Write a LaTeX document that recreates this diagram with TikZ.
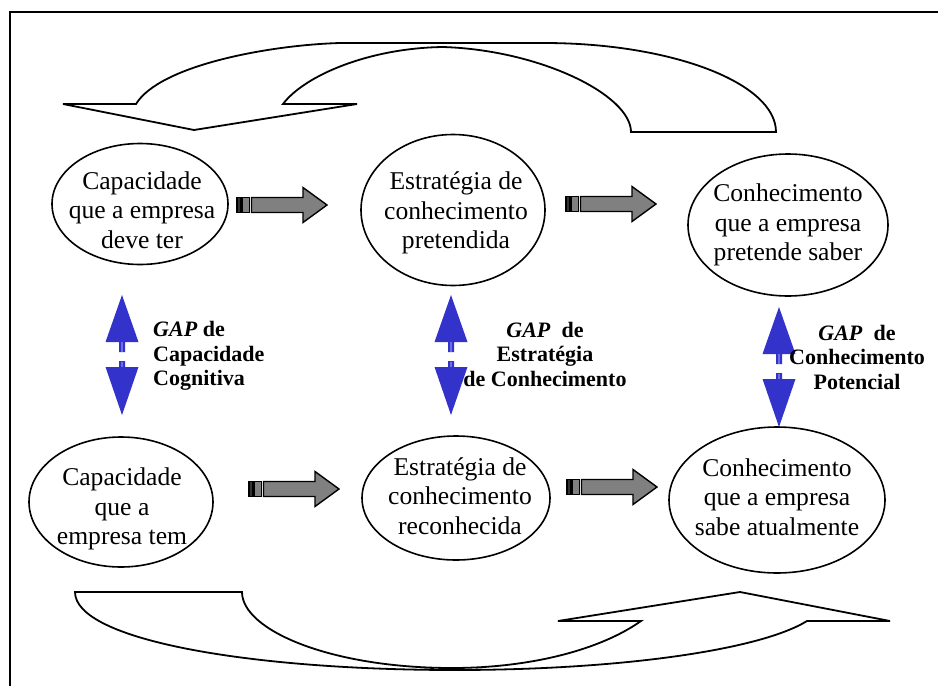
\documentclass[tikz,border=0pt]{standalone}
\usepackage{fontspec}
\setmainfont{Liberation Serif}
\usetikzlibrary{shapes.geometric}
\definecolor{gapblue}{HTML}{3333CC}
\definecolor{gaplight}{HTML}{6F6FDD}
\definecolor{arrowgray}{HTML}{808080}

\begin{document}
\begin{tikzpicture}[x=1pt,y=-1pt,
  oval/.style={draw, ellipse, line width=1.6pt, inner sep=0pt},
  ovaltext/.style={align=center, inner sep=0pt, font=\fontsize{25.6}{29.5}\selectfont},
  gaplabel/.style={inner sep=0pt, font=\fontsize{22}{24.5}\selectfont\bfseries},
  cycleshape/.style={draw, line width=1.8pt, line join=miter},
  stripearrow/.pic={
    \filldraw[fill=arrowgray!40!black, line width=1.1pt] (0,-7.5) rectangle (4,7.5);
    \filldraw[fill=arrowgray, line width=1.1pt] (5.5,-7.5) rectangle (12.5,7.5);
    \filldraw[fill=arrowgray, line width=1.4pt, line join=miter]
      (14.5,-7.5) -- (66,-7.5) -- (66,-17.5) -- (90,0) -- (66,17.5) -- (66,7.5) -- (14.5,7.5) -- cycle;
  },
  gapcue/.pic={
    \fill[gapblue] (0,0) -- (16.5,47) -- (3,47) -- (3,57) -- (-3,57) -- (-3,47) -- (-16.5,47) -- cycle;
    \fill[gapblue] (0,120) -- (16.5,72) -- (3,72) -- (3,66) -- (-3,66) -- (-3,72) -- (-16.5,72) -- cycle;
    \draw[gaplight, line width=1.6pt] (0,47) -- (0,56.5) (0,66.5) -- (0,72);
  }
]
\useasboundingbox (0,0) rectangle (938,686);

% frame
\draw[line width=2pt] (10,700) |- (950,12);

% upper cycle arrow (returns to the left)
\draw[cycleshape] (194,130) -- (63,104) -- (136,104)
  .. controls (160,65) and (270,45) .. (340,43) -- (544,43)
  .. controls (672,43) and (776,83) .. (776,132) -- (631,132)
  .. controls (631,95) and (540,50) .. (443,47)
  .. controls (370,48) and (305,75) .. (283,104) -- (357,104) -- cycle;

% lower cycle arrow (returns to the right)
\draw[cycleshape] (75,592) -- (242,592)
  .. controls (242,630) and (330,668) .. (452,668)
  .. controls (530,668) and (600,650) .. (641,621) -- (558,621) -- (740,592) -- (890,621) -- (807,621)
  .. controls (760,650) and (620,670) .. (455,670)
  .. controls (250,670) and (75,640) .. cycle;

% ellipses
\node[oval, minimum width=176, minimum height=121] (e1) at (140,204) {};
\node[ovaltext] (t1) at (142,210) {Capacidade\\que a empresa\\deve ter};
\node[oval, minimum width=184, minimum height=151] (e2) at (453,210) {};
\node[ovaltext] (t2) at (456,213) {Estratégia de\\conhecimento\\pretendida};
\node[oval, minimum width=200, minimum height=142] (e3) at (788,225) {};
\node[ovaltext] (t3) at (788,225) {Conhecimento\\que a empresa\\pretende saber};
\node[oval, minimum width=184, minimum height=130] (e4) at (121,502) {};
\node[ovaltext] (t4) at (122,509) {Capacidade\\que a\\empresa tem};
\node[oval, minimum width=188, minimum height=124] (e5) at (456,498) {};
\node[ovaltext] (t5) at (460,496) {Estratégia de\\conhecimento\\reconhecida};
\node[oval, minimum width=216, minimum height=146] (e6) at (777,500) {};
\node[ovaltext] (t6) at (777,497) {Conhecimento\\que a empresa\\sabe atualmente};

% striped gray arrows
\pic at (237,205) {stripearrow};
\pic at (566,204) {stripearrow};
\pic at (249,489) {stripearrow};
\pic at (567,487) {stripearrow};

% blue double arrows marking the gaps
\pic at (122,295) {gapcue};
\pic at (451,295) {gapcue};
\pic at (779,307) {gapcue};

% gap labels
\node[gaplabel, anchor=west, align=left] (g1) at (153,356) {\textit{GAP} de\\Capacidade\\Cognitiva};
\node[gaplabel, align=center] (g2) at (545,354) {\textit{GAP}~ de\\Estratégia\\de Conhecimento};
\node[gaplabel, align=center] (g3) at (857,357) {\textit{GAP}~ de\\Conhecimento\\Potencial};
\end{tikzpicture}
\end{document}
